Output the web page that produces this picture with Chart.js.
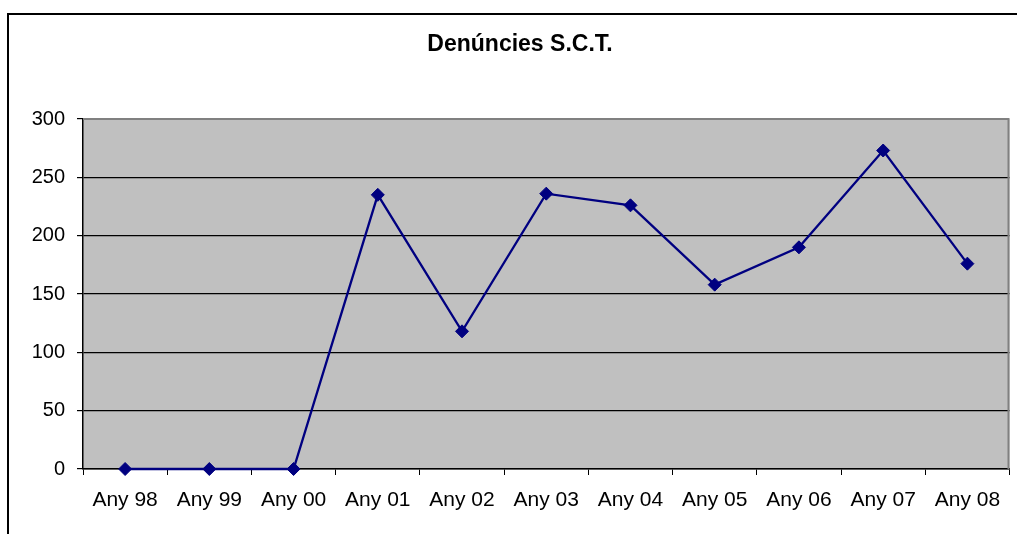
<!DOCTYPE html>
<html>
<head>
<meta charset="utf-8">
<script src="https://cdn.jsdelivr.net/npm/chart.js@4"></script>
<style>
html,body{margin:0;padding:0;background:#fff;}
#wrap{width:1017px;height:534px;position:relative;}
</style>
</head>
<body>
<div id="wrap"><canvas id="c" width="1017" height="534"></canvas></div>
<script>
const titleText = 'Denúncies S.C.T.';
const categories = ['Any 98','Any 99','Any 00','Any 01','Any 02','Any 03','Any 04','Any 05','Any 06','Any 07','Any 08'];
const denuncies = [0, 0, 0, 235, 118, 236, 226, 158, 190, 273, 176];
const yTicks = [0, 50, 100, 150, 200, 250, 300];

const framePlugin = {
  id: 'frame',
  beforeDraw(chart) {
    const ctx = chart.ctx, a = chart.chartArea;
    ctx.save();
    ctx.fillStyle = '#ffffff';
    ctx.fillRect(0, 0, chart.width, chart.height);
    ctx.fillStyle = '#000000';
    ctx.fillRect(7, 13, chart.width, 2);
    ctx.fillRect(7, 13, 2, chart.height);
    ctx.fillStyle = '#c0c0c0';
    ctx.fillRect(a.left, a.top, a.right - a.left, a.bottom - a.top);
    ctx.fillStyle = '#000000';
    ctx.font = 'bold 23px "Liberation Sans", Arial, sans-serif';
    ctx.textAlign = 'center';
    ctx.textBaseline = 'middle';
    ctx.fillText(titleText, 520, 45);
    ctx.restore();
  },
  beforeDatasetsDraw(chart) {
    const ctx = chart.ctx, a = chart.chartArea;
    ctx.save();
    ctx.strokeStyle = '#808080';
    ctx.lineWidth = 2;
    ctx.beginPath();
    ctx.moveTo(a.left, a.top);
    ctx.lineTo(a.right - 1, a.top);
    ctx.lineTo(a.right - 1, a.bottom);
    ctx.stroke();
    ctx.restore();
  }
};

new Chart(document.getElementById('c'), {
  type: 'line',
  data: {
    labels: categories,
    datasets: [{
      data: denuncies,
      borderColor: '#000080',
      backgroundColor: '#000080',
      borderWidth: 2.3,
      pointStyle: 'rectRot',
      pointRadius: 6.5,
      pointBorderWidth: 1,
      pointBackgroundColor: '#000080',
      pointBorderColor: '#000080',
      tension: 0,
      clip: false
    }]
  },
  options: {
    responsive: false,
    animation: false,
    devicePixelRatio: 1,
    layout: { padding: { left: 0, right: 4, top: 119, bottom: 0 } },
    plugins: {
      legend: { display: false },
      tooltip: { enabled: false },
      title: { display: false }
    },
    scales: {
      x: {
        type: 'category',
        offset: true,
        grid: {
          offset: true,
          drawOnChartArea: false,
          drawTicks: true,
          tickLength: 6,
          tickColor: '#000000',
          tickWidth: 1
        },
        border: { display: true, color: '#000000', width: 1.5 },
        ticks: {
          color: '#000000',
          font: { family: 'Liberation Sans, Arial, sans-serif', size: 21 },
          padding: 13,
          maxRotation: 0,
          autoSkip: false
        },
        afterFit(scale) { scale.height = 65; }
      },
      y: {
        min: 0,
        max: 300,
        afterBuildTicks(scale) { scale.ticks = yTicks.map(v => ({ value: v })); },
        grid: {
          color: ctx => (ctx.tick && ctx.tick.value === 300) ? 'rgba(0,0,0,0)' : '#000000',
          lineWidth: 1.2,
          tickLength: 6,
          tickColor: '#000000'
        },
        border: { display: true, color: '#000000', width: 1.5 },
        ticks: {
          color: '#000000',
          font: { family: 'Liberation Sans, Arial, sans-serif', size: 20 },
          padding: 12
        },
        afterFit(scale) { scale.width = 83; }
      }
    }
  },
  plugins: [framePlugin]
});
</script>
</body>
</html>
